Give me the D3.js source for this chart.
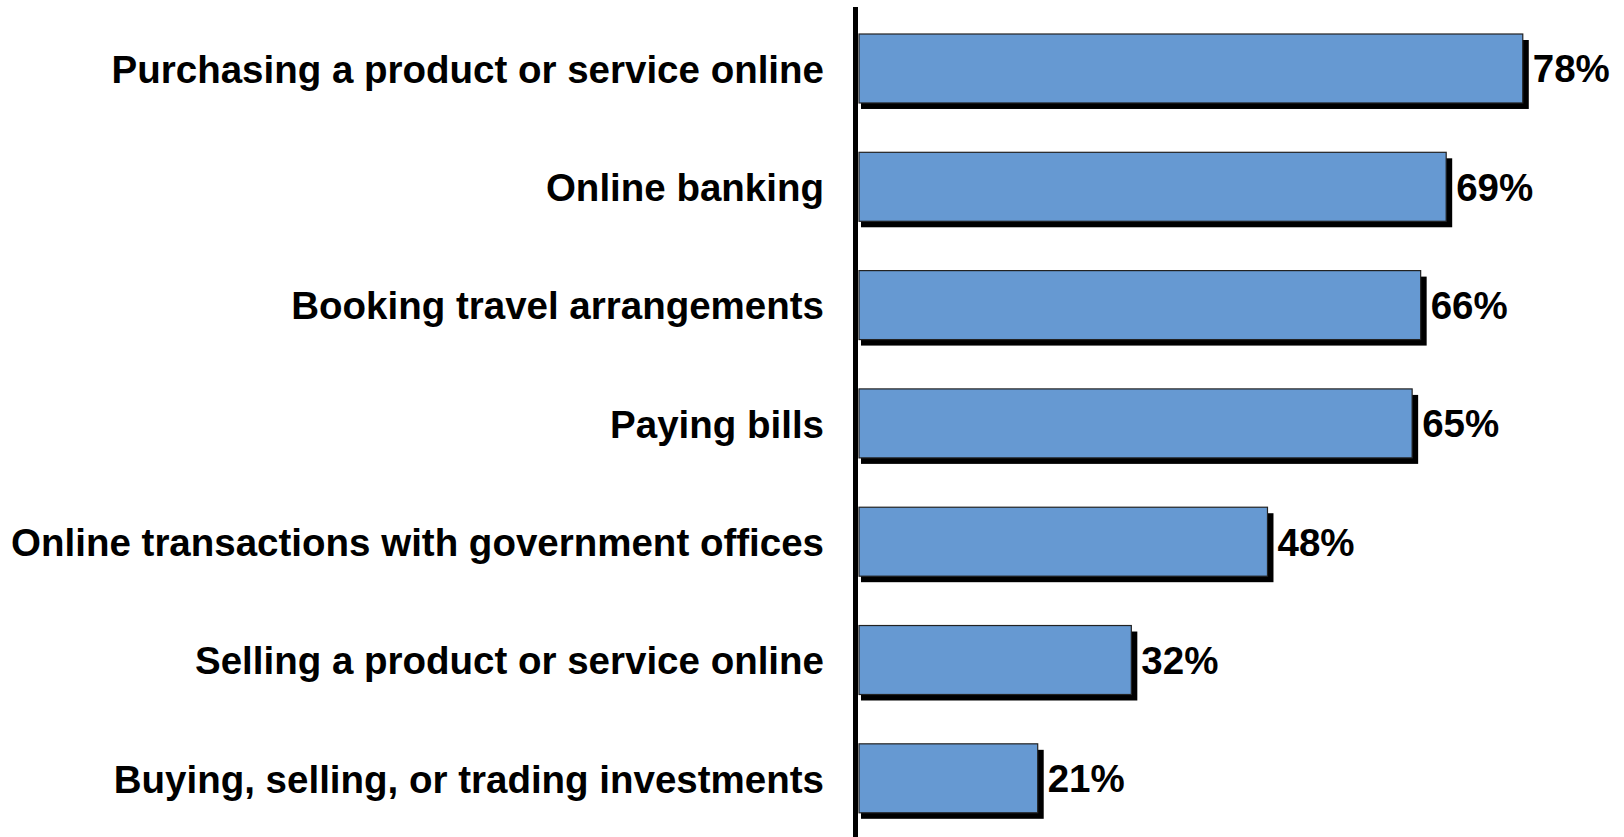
<!DOCTYPE html>
<html><head><meta charset="utf-8">
<script src="https://cdn.jsdelivr.net/npm/d3@7"></script>
<style>html,body{margin:0;padding:0;background:#fff;}</style>
</head><body>
<svg id="c" width="1624" height="837"></svg>
<script>
const categories = [
  "Purchasing a product or service online",
  "Online banking",
  "Booking travel arrangements",
  "Paying bills",
  "Online transactions with government offices",
  "Selling a product or service online",
  "Buying, selling, or trading investments"
];
const values = [78, 69, 66, 65, 48, 32, 21];
const valueLabels = ["78%", "69%", "66%", "65%", "48%", "32%", "21%"];

const svg = d3.select("#c");
const x0 = 859;
const x = d3.scaleLinear().domain([0, 100]).range([x0, x0 + 851]);
const y = d3.scaleBand().domain(categories).range([34, 812.8]).paddingInner(0.417).paddingOuter(0);

const font = "'Liberation Sans', Arial, sans-serif";
const fs = 38.5;

// shadows
svg.selectAll("rect.sh").data(categories).enter().append("rect")
  .attr("x", x0 + 2).attr("y", d => y(d) + 6)
  .attr("width", (d, i) => x(values[i]) - x0 + 4)
  .attr("height", y.bandwidth())
  .attr("fill", "#000");

svg.selectAll("rect.bar").data(categories).enter().append("rect")
  .attr("x", x0).attr("y", d => y(d))
  .attr("width", (d, i) => x(values[i]) - x0)
  .attr("height", y.bandwidth())
  .attr("fill", "#6699D2").attr("stroke", "#222").attr("stroke-width", 1.2);

// axis line
svg.append("line").attr("x1", 855.5).attr("x2", 855.5).attr("y1", 7).attr("y2", 837)
  .attr("stroke", "#000").attr("stroke-width", 5);

svg.selectAll("text.cat").data(categories).enter().append("text")
  .attr("x", 824).attr("y", d => y(d) + y.bandwidth() / 2)
  .attr("dy", "0.37em").attr("text-anchor", "end")
  .attr("font-family", font).attr("font-weight", "bold").attr("font-size", fs)
  .attr("fill", "#000").text(d => d);

svg.selectAll("text.val").data(categories).enter().append("text")
  .attr("x", (d, i) => x(values[i]) + 10).attr("y", d => y(d) + y.bandwidth() / 2)
  .attr("dy", "0.36em")
  .attr("font-family", font).attr("font-weight", "bold").attr("font-size", fs)
  .attr("fill", "#000").text((d, i) => valueLabels[i]);
</script>
</body></html>
